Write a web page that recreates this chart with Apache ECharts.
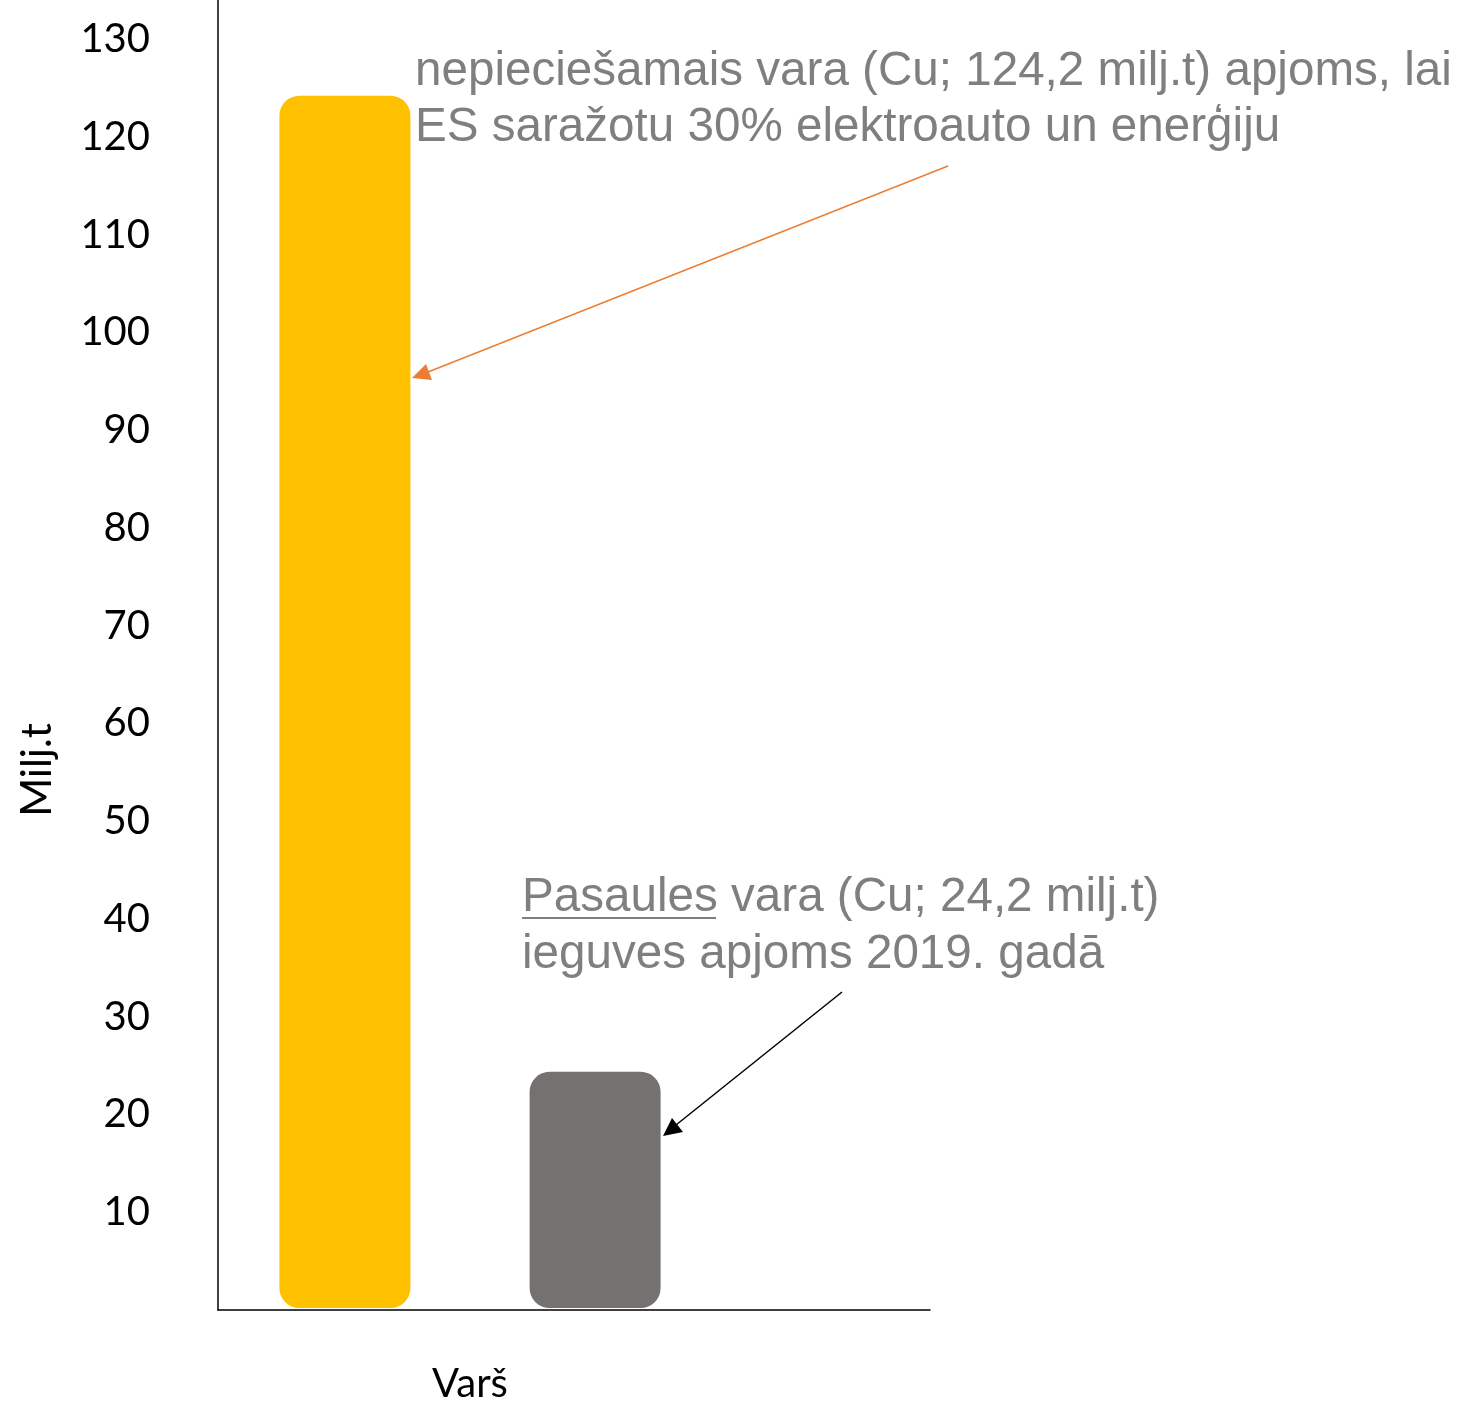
<!DOCTYPE html>
<html>
<head>
<meta charset="utf-8">
<title>Varš – Milj.t</title>
<script src="https://cdn.jsdelivr.net/npm/echarts@6/dist/echarts.min.js"></script>
<style>
  html, body { margin: 0; padding: 0; background: #ffffff; }
  #chart { width: 1473px; height: 1404px; }
</style>
</head>
<body>
<div id="chart"></div>
<script>
// Copper demand vs. world mine output (million tonnes)
const categories = ['Varš'];
const euDemand = [124.2];     // needed copper for 30% EU EV + energy production
const worldOutput = [24.2];   // world copper mine output 2019
const yTicks = [10, 20, 30, 40, 50, 60, 70, 80, 90, 100, 110, 120, 130];

const yMax = 134;
const axisFont = 'Lato, "Noto Sans", sans-serif';
const noteFont = '"Liberation Sans", Arial, sans-serif';
const noteColor = '#7f7f7f';

const chart = echarts.init(document.getElementById('chart'), null, { renderer: 'canvas' });

chart.setOption({
  backgroundColor: '#ffffff',
  animation: false,
  grid: [
    // frame: axis lines across the whole plot
    { left: 218, right: 543, top: 0, bottom: 94 },
    // bar area
    { left: 218, right: 751, top: 0, bottom: 94 }
  ],
  xAxis: [
    {
      gridIndex: 0, type: 'category', data: [''],
      axisLine: { show: true, lineStyle: { color: '#000000', width: 1.5 } },
      axisTick: { show: false }, axisLabel: { show: false }, splitLine: { show: false }
    },
    {
      gridIndex: 1, type: 'category', data: categories,
      axisLine: { show: false }, axisTick: { show: false },
      axisLabel: { margin: 56, fontSize: 40, fontFamily: axisFont, color: '#000000' }
    }
  ],
  yAxis: [
    {
      gridIndex: 0, type: 'value', min: 0, max: yMax, interval: 10,
      axisLine: { show: true, lineStyle: { color: '#000000', width: 1.5 } },
      axisTick: { show: false }, splitLine: { show: false },
      axisLabel: {
        margin: 68, fontSize: 40, fontFamily: axisFont, color: '#000000',
        showMinLabel: false, showMaxLabel: false,
        formatter: v => (yTicks.indexOf(v) >= 0 ? String(v) : '')
      }
    },
    {
      gridIndex: 1, type: 'value', min: 0, max: yMax, interval: 10, show: false
    }
  ],
  series: [
    {
      name: 'ES vajadzība', type: 'bar', xAxisIndex: 1, yAxisIndex: 1,
      data: euDemand, barWidth: 131, barGap: '91%',
      itemStyle: { color: '#ffc000', borderRadius: 20 }
    },
    {
      name: 'Pasaules ieguve', type: 'bar', xAxisIndex: 1, yAxisIndex: 1,
      data: worldOutput, barWidth: 131,
      itemStyle: { color: '#757171', borderRadius: 20 }
    }
  ],
  graphic: [
    // y-axis title
    {
      type: 'text', x: 37, y: 770, rotation: Math.PI / 2,
      style: {
        text: 'Milj.t', fontSize: 42, fontFamily: axisFont, fill: '#000000',
        align: 'center', verticalAlign: 'middle'
      }
    },
    // note for the EU demand bar
    {
      type: 'text', x: 415, y: 44,
      style: {
        text: 'nepieciešamais vara (Cu; 124,2 milj.t) apjoms, lai\nES saražotu 30% elektroauto un enerģiju',
        fontSize: 47.6, fontFamily: noteFont, fill: noteColor,
        lineHeight: 56, verticalAlign: 'top'
      }
    },
    {
      type: 'line', shape: { x1: 948, y1: 166, x2: 428, y2: 372 },
      style: { stroke: '#ed7d31', lineWidth: 1.5 }
    },
    {
      type: 'polygon', shape: { points: [[412, 378], [426, 364], [432, 380]] },
      style: { fill: '#ed7d31' }
    },
    // note for the world output bar
    {
      type: 'text', x: 522, y: 869,
      style: {
        text: 'Pasaules vara (Cu; 24,2 milj.t)\nieguves apjoms 2019. gadā',
        fontSize: 47.6, fontFamily: noteFont, fill: noteColor,
        lineHeight: 57, verticalAlign: 'top'
      }
    },
    {
      type: 'line', shape: { x1: 522, y1: 918, x2: 716, y2: 918 },
      style: { stroke: noteColor, lineWidth: 2 }
    },
    {
      type: 'line', shape: { x1: 842, y1: 992, x2: 676, y2: 1125 },
      style: { stroke: '#000000', lineWidth: 1.5 }
    },
    {
      type: 'polygon', shape: { points: [[663, 1136], [672, 1118], [683, 1132]] },
      style: { fill: '#000000' }
    }
  ]
});
</script>
</body>
</html>
